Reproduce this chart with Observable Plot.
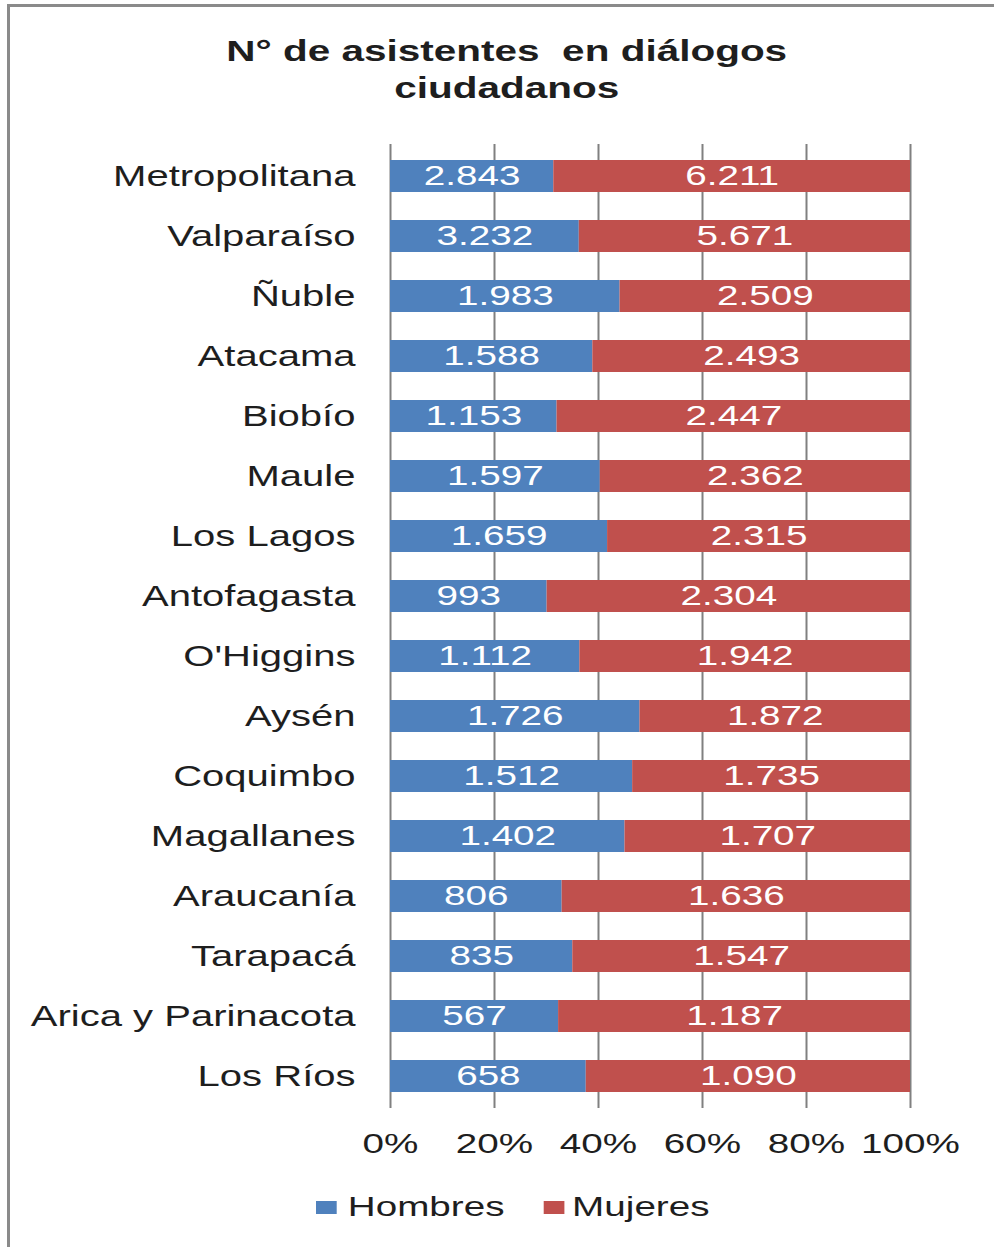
<!DOCTYPE html>
<html>
<head>
<meta charset="utf-8">
<script src="https://cdn.jsdelivr.net/npm/d3@7"></script>
<script src="https://cdn.jsdelivr.net/npm/@observablehq/plot@0.6"></script>
<style>
  html, body { margin: 0; padding: 0; background: #fff; overflow: hidden; }
  body { font-family: "Liberation Sans", Arial, sans-serif; color: #1e1e1e; width: 994px; height: 1247px; position: relative; }
  #border { position: absolute; left: 7px; top: 4px; width: 994px; height: 1250px; border-top: 3px solid #8a8a8a; border-left: 3px solid #8a8a8a; pointer-events: none; }
  #title { height: 134px; margin-left: 20px; width: 974px; box-sizing: border-box; padding-top: 32px; text-align: center; }
  #title span { display: inline-block; font-weight: bold; font-size: 30px; line-height: 37px; transform: scaleX(1.35); transform-origin: center; white-space: pre; }
  #chart svg { display: block; }
  #chart svg g[aria-label="y-axis tick label"] text { font-size: 29px; }
  #legend { height: 73px; box-sizing: border-box; padding-left: 316px; padding-top: 13px; }
  #legend .inner { display: inline-flex; align-items: center; transform: scaleX(1.38); transform-origin: left center; font-size: 28px; line-height: 40px; white-space: nowrap; }
  #legend .sw { display: inline-block; width: 15px; height: 13px; margin-right: 8px; }
  #legend .item { display: inline-flex; align-items: center; }
</style>
</head>
<body>
<div id="border"></div>
<div id="title"><span>N° de asistentes  en diálogos
ciudadanos</span></div>
<div id="chart"></div>
<div id="legend"></div>
<script>
// ---- data ----
const regions = ["Metropolitana", "Valparaíso", "Ñuble", "Atacama", "Biobío", "Maule", "Los Lagos", "Antofagasta", "O'Higgins", "Aysén", "Coquimbo", "Magallanes", "Araucanía", "Tarapacá", "Arica y Parinacota", "Los Ríos"];
const hombres = [2843, 3232, 1983, 1588, 1153, 1597, 1659, 993, 1112, 1726, 1512, 1402, 806, 835, 567, 658];
const mujeres = [6211, 5671, 2509, 2493, 2447, 2362, 2315, 2304, 1942, 1872, 1735, 1707, 1636, 1547, 1187, 1090];
const seriesNames = ["Hombres", "Mujeres"];
const seriesColors = ["#4F81BD", "#C0504D"];
const xTicks = [0, 0.2, 0.4, 0.6, 0.8, 1];

// ---- table ----
const rows = [];
regions.forEach((r, i) => {
  rows.push({region: r, sex: seriesNames[0], value: hombres[i]});
  rows.push({region: r, sex: seriesNames[1], value: mujeres[i]});
});

const locale = d3.formatLocale({decimal: ",", thousands: ".", grouping: [3], currency: ["", ""]});
const fmt = locale.format(",");

const SX = 1.38;

const svg = Plot.plot({
  width: 994,
  height: 1040,
  marginTop: 10,
  marginBottom: 66,
  marginLeft: 390,
  marginRight: 84,
  style: {fontFamily: "'Liberation Sans', Arial, sans-serif", fontSize: "28px", color: "#1e1e1e", background: "transparent"},
  x: {domain: [0, 1], ticks: xTicks, tickFormat: d => Math.round(d * 100) + "%", label: null, tickSize: 0, tickPadding: 25},
  y: {domain: regions, paddingInner: 0.47, paddingOuter: 0.235, label: null, tickSize: 0, tickPadding: 35},
  color: {domain: seriesNames, range: seriesColors},
  marks: [
    Plot.gridX(xTicks, {stroke: "#808080", strokeOpacity: 1, strokeWidth: 2}),
    Plot.barX(rows, Plot.stackX({x: "value", y: "region", z: "sex", fill: "sex", offset: "normalize", order: null})),
    Plot.text(rows, Plot.stackX({x: "value", y: "region", z: "sex", offset: "normalize", order: null, text: d => fmt(d.value), fill: "white", fontSize: 28}))
  ]
});

// horizontal stretch of glyphs, as in the reference
svg.querySelectorAll("text").forEach(t => {
  const x = t.getAttribute("x");
  let tr = t.getAttribute("transform") || "";
  if (x != null && isFinite(+x)) {
    tr += ` translate(${+x},0)`;
    t.removeAttribute("x");
  }
  t.setAttribute("transform", tr + ` scale(${SX},1)`);
});

document.getElementById("chart").appendChild(svg);

// legend
const legend = document.getElementById("legend");
const inner = document.createElement("div");
inner.className = "inner";
seriesNames.forEach((name, i) => {
  const item = document.createElement("span");
  item.className = "item";
  if (i > 0) item.style.marginLeft = "28px";
  const sw = document.createElement("span");
  sw.className = "sw";
  sw.style.background = seriesColors[i];
  if (i > 0) sw.style.marginRight = "6px";
  const label = document.createElement("span");
  label.textContent = name;
  item.appendChild(sw);
  item.appendChild(label);
  inner.appendChild(item);
});
legend.appendChild(inner);
</script>
</body>
</html>
